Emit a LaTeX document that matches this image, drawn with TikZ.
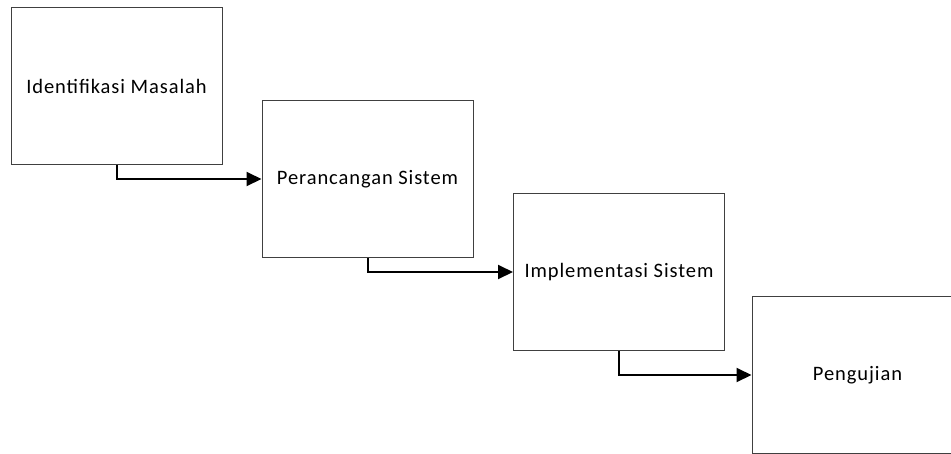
\documentclass[tikz,border=0pt]{standalone}
\usepackage{fontspec}
\setmainfont{Carlito}[LetterSpace=4.5]
\usetikzlibrary{arrows.meta}

\begin{document}
\begin{tikzpicture}[x=1pt, y=-1pt,
  every node/.style={rectangle, draw=black!75, line width=1pt, minimum width=211pt, minimum height=157pt, font=\fontsize{20.5}{24}\selectfont}]
  \useasboundingbox (0,0) rectangle (951,453);
  \clip (0,0) rectangle (951,453);
  % Kotak
  \node (1) at (116.5,86) {Identifikasi Masalah};   % Atas kiri
  \node (2) at (367.5,179) {Perancangan Sistem};    % Kedua
  \node (3) at (619,272) {Implementasi Sistem};     % Ketiga
  \node (4) at (857.5,375) {Pengujian};             % Bawah kanan

  % Panah
  \draw[line width=2pt, -{Triangle[length=15pt, width=14pt]}] (1.south) |- (2.west);
  \draw[line width=2pt, -{Triangle[length=15pt, width=14pt]}] (2.south) |- (3.west);
  \draw[line width=2pt, -{Triangle[length=15pt, width=14pt]}] (3.south) |- (4.west);
\end{tikzpicture}
\end{document}
